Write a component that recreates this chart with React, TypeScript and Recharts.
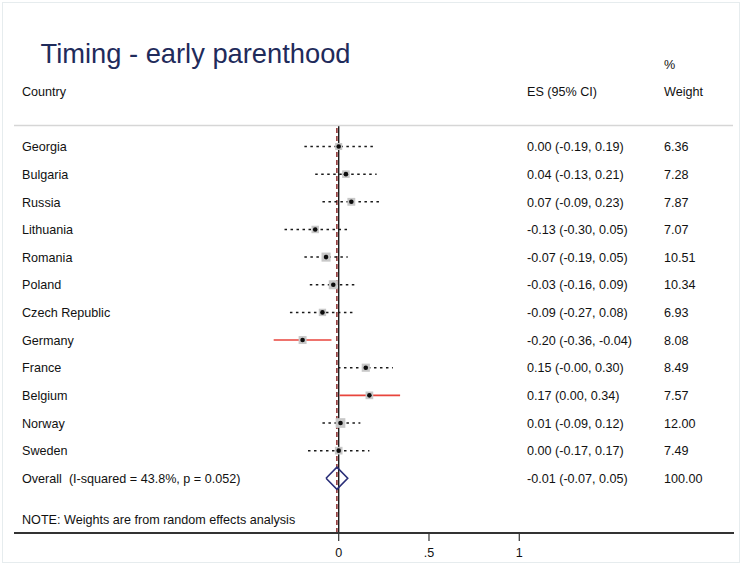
import React from 'react';
import { ComposedChart, XAxis, YAxis, Line, Scatter, ReferenceLine } from 'recharts';

const countries = ['Georgia', 'Bulgaria', 'Russia', 'Lithuania', 'Romania', 'Poland', 'Czech Republic', 'Germany', 'France', 'Belgium', 'Norway', 'Sweden'];
const effectSizes = [0.0, 0.04, 0.07, -0.13, -0.07, -0.03, -0.09, -0.2, 0.15, 0.17, 0.01, 0.0];
const ciLower = [-0.19, -0.13, -0.09, -0.3, -0.19, -0.16, -0.27, -0.36, -0.004, 0.004, -0.09, -0.17];
const ciUpper = [0.19, 0.21, 0.23, 0.05, 0.05, 0.09, 0.08, -0.04, 0.3, 0.34, 0.12, 0.17];
const weights = [6.36, 7.28, 7.87, 7.07, 10.51, 10.34, 6.93, 8.08, 8.49, 7.57, 12.0, 7.49];
const overallEs = -0.01;
const overallLo = -0.07;
const overallHi = 0.05;
const overallWeight = 100.0;
const overallLabel = 'Overall  (I-squared = 43.8%, p = 0.052)';
const xTicks = [0, 0.5, 1];
const xTickLabels = ['0', '.5', '1'];

const W = 742;
const H = 566;
const FONT = '"Liberation Sans", Arial, sans-serif';
const TXT = '#111';
const FS = 12.6;

const OVERALL_ROW = countries.length + 1;
const fmt = (v: number) => v.toFixed(2);

const studyRows = countries.map((c, i) => ({
  x: effectSizes[i],
  y: i + 1,
  w: weights[i],
  name: c,
  ci: `${fmt(effectSizes[i])} (${fmt(ciLower[i])}, ${fmt(ciUpper[i])})`,
  wt: fmt(weights[i]),
}));

const overallRows = [
  {
    x: overallEs,
    y: OVERALL_ROW,
    w: overallWeight,
    name: overallLabel,
    ci: `${fmt(overallEs)} (${fmt(overallLo)}, ${fmt(overallHi)})`,
    wt: fmt(overallWeight),
  },
];

const RowTexts = ({ cy, d }: { cy: number; d: any }) => {
  const by = cy + 4.7;
  return (
    <g fontFamily={FONT} fontSize={FS} fill={TXT}>
      <text x={22} y={by} style={{ whiteSpace: 'pre' }}>{d.name}</text>
      <text x={527} y={by}>{d.ci}</text>
      <text x={664} y={by}>{d.wt}</text>
    </g>
  );
};

const BoxShape = (props: any) => {
  const { cx, cy } = props;
  const d = props.payload ?? props;
  const s = 2.8 * Math.sqrt(d.w);
  return (
    <g>
      <rect x={cx - s / 2} y={cy - s / 2} width={s} height={s} fill="#c8c8c8" />
      <circle cx={cx} cy={cy} r={2.3} fill="#0d0d0d" />
      <RowTexts cy={cy} d={d} />
    </g>
  );
};

const TextOnlyShape = (props: any) => {
  const d = props.payload ?? props;
  return <RowTexts cy={props.cy} d={d} />;
};

const diamond = [
  { x: overallLo, y: OVERALL_ROW },
  { x: overallEs, y: OVERALL_ROW - 0.4 },
  { x: overallHi, y: OVERALL_ROW },
  { x: overallEs, y: OVERALL_ROW + 0.4 },
  { x: overallLo, y: OVERALL_ROW },
];

export default function App() {
  return (
    <div style={{ position: 'absolute', left: 0, top: 0, width: W, height: H, background: '#fff' }}>
      <ComposedChart width={W} height={H} margin={{ top: 126, right: 8, bottom: 3, left: 14 }}>
        <XAxis
          type="number"
          dataKey="x"
          domain={[-1.798, 2.189]}
          allowDataOverflow
          ticks={xTicks}
          tickFormatter={(v: number) => xTickLabels[xTicks.indexOf(v)]}
          height={30}
          tickSize={8}
          tickMargin={7}
          axisLine={{ stroke: '#333', strokeWidth: 2 }}
          tickLine={{ stroke: '#333', strokeWidth: 1.2 }}
          tick={{ fill: TXT, fontSize: FS, fontFamily: FONT }}
        />
        <YAxis type="number" dataKey="y" reversed domain={[0.2586, 14.978]} allowDataOverflow hide />
        <ReferenceLine x={0} stroke="#1d1d1d" strokeWidth={1.4} />
        <ReferenceLine x={overallEs} stroke="#8a2a2a" strokeWidth={1.5} strokeDasharray="5 3" />
        {countries.map((c, i) => {
          const sig = ciLower[i] > 0 || ciUpper[i] < 0;
          return (
            <Line
              key={c}
              data={[
                { x: ciLower[i], y: i + 1 },
                { x: ciUpper[i], y: i + 1 },
              ]}
              dataKey="y"
              type="linear"
              stroke={sig ? '#e8453c' : '#1a1a1a'}
              strokeWidth={sig ? 1.6 : 1.5}
              strokeDasharray={sig ? undefined : '2.5 3.5'}
              dot={false}
              activeDot={false}
              isAnimationActive={false}
            />
          );
        })}
        <Scatter data={studyRows} shape={(p: any) => <BoxShape {...p} />} isAnimationActive={false} />
        <Scatter data={overallRows} shape={(p: any) => <TextOnlyShape {...p} />} isAnimationActive={false} />
        <Line
          data={diamond}
          dataKey="y"
          type="linear"
          stroke="#2a2f78"
          strokeWidth={1.6}
          dot={false}
          activeDot={false}
          isAnimationActive={false}
        />
      </ComposedChart>
      <svg
        width={W}
        height={H}
        style={{ position: 'absolute', left: 0, top: 0, pointerEvents: 'none' }}
        fontFamily={FONT}
      >
        <rect x={2.5} y={2.5} width={737} height={560} fill="none" stroke="#e6ecee" strokeWidth={1} />
        <text x={40.5} y={63} fontSize={27.3} fill="#1f2b5b">Timing - early parenthood</text>
        <text x={22} y={96} fontSize={FS} fill={TXT}>Country</text>
        <text x={527} y={96} fontSize={FS} fill={TXT}>ES (95% CI)</text>
        <text x={664} y={69} fontSize={FS} fill={TXT}>%</text>
        <text x={664} y={96} fontSize={FS} fill={TXT}>Weight</text>
        <line x1={14} x2={733} y1={125.5} y2={125.5} stroke="#d6d6d6" strokeWidth={1.5} />
        <text x={22} y={524} fontSize={FS} fill={TXT}>NOTE: Weights are from random effects analysis</text>
      </svg>
    </div>
  );
}
